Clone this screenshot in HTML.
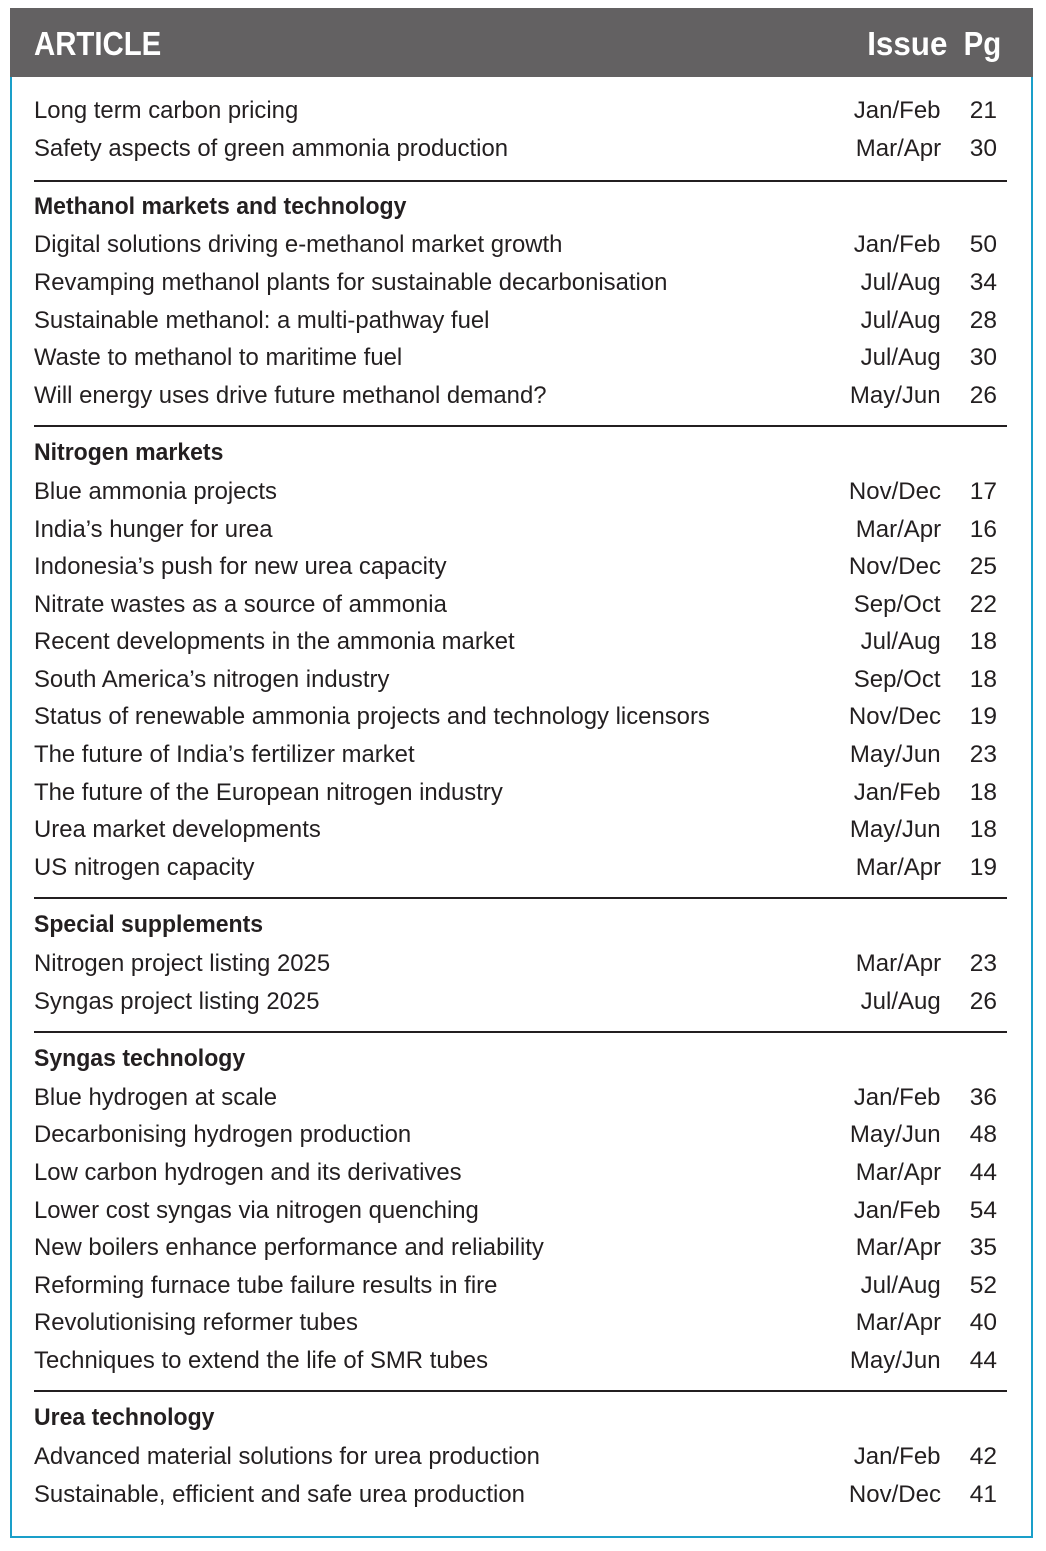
<!DOCTYPE html>
<html><head><meta charset="utf-8"><style>
body{margin:0;width:1046px;height:1551px;background:#fff;position:relative;overflow:hidden;font-family:"Liberation Sans",sans-serif;color:#231f20}
#box{position:absolute;left:10px;top:8px;width:1019px;height:1528px;border:2px solid #1a9fc9;border-top:none}
#hdr{position:absolute;left:10px;top:8px;width:1023px;height:69px;background:#636162;color:#fff}
.h{position:absolute;top:0;line-height:72px;font-weight:bold;font-size:33px;transform:scaleX(0.89)}
.row{position:absolute;height:38px;line-height:38px;font-size:24.5px;white-space:nowrap}
.t{position:absolute;left:34px;transform:scaleX(0.975);transform-origin:left center}
.t.head{font-weight:bold;transform:scaleX(0.94);transform-origin:left center}
.i{position:absolute;right:105px;transform:scaleX(0.98);transform-origin:right center}
.p{position:absolute;right:49px}
.sep{position:absolute;left:34px;width:973px;height:2px;background:#231f20}
</style></head><body>
<div id="box"></div>
<div id="hdr">
<span class="h" style="left:24px;transform-origin:left center">ARTICLE</span>
<span class="h" style="right:86px;transform-origin:right center;transform:scaleX(0.95)">Issue</span>
<span class="h" style="right:32px;transform-origin:right center">Pg</span>
</div>
<div id="rows"></div>
<script>
const rows=[
[111,"Long term carbon pricing","Jan/Feb","21"],
[149,"Safety aspects of green ammonia production","Mar/Apr","30"],
[181,"SEP"],
[207,"Methanol markets and technology"],
[245,"Digital solutions driving e-methanol market growth","Jan/Feb","50"],
[283,"Revamping methanol plants for sustainable decarbonisation","Jul/Aug","34"],
[321,"Sustainable methanol: a multi-pathway fuel","Jul/Aug","28"],
[358,"Waste to methanol to maritime fuel","Jul/Aug","30"],
[396,"Will energy uses drive future methanol demand?","May/Jun","26"],
[426,"SEP"],
[453,"Nitrogen markets"],
[492,"Blue ammonia projects","Nov/Dec","17"],
[530,"India’s hunger for urea","Mar/Apr","16"],
[567,"Indonesia’s push for new urea capacity","Nov/Dec","25"],
[605,"Nitrate wastes as a source of ammonia","Sep/Oct","22"],
[642,"Recent developments in the ammonia market","Jul/Aug","18"],
[680,"South America’s nitrogen industry","Sep/Oct","18"],
[717,"Status of renewable ammonia projects and technology licensors","Nov/Dec","19"],
[755,"The future of India’s fertilizer market","May/Jun","23"],
[793,"The future of the European nitrogen industry","Jan/Feb","18"],
[830,"Urea market developments","May/Jun","18"],
[868,"US nitrogen capacity","Mar/Apr","19"],
[898,"SEP"],
[925,"Special supplements"],
[964,"Nitrogen project listing 2025","Mar/Apr","23"],
[1002,"Syngas project listing 2025","Jul/Aug","26"],
[1032,"SEP"],
[1059,"Syngas technology"],
[1098,"Blue hydrogen at scale","Jan/Feb","36"],
[1135,"Decarbonising hydrogen production","May/Jun","48"],
[1173,"Low carbon hydrogen and its derivatives","Mar/Apr","44"],
[1211,"Lower cost syngas via nitrogen quenching","Jan/Feb","54"],
[1248,"New boilers enhance performance and reliability","Mar/Apr","35"],
[1286,"Reforming furnace tube failure results in fire","Jul/Aug","52"],
[1323,"Revolutionising reformer tubes","Mar/Apr","40"],
[1361,"Techniques to extend the life of SMR tubes","May/Jun","44"],
[1391,"SEP"],
[1418,"Urea technology"],
[1457,"Advanced material solutions for urea production","Jan/Feb","42"],
[1495,"Sustainable, efficient and safe urea production","Nov/Dec","41"]
];
const c=document.getElementById('rows');
rows.forEach(r=>{
  if(r[1]==="SEP"){
    const s=document.createElement('div');s.className='sep';s.style.top=(r[0]-1)+'px';
    
    
    c.appendChild(s);return;
  }
  const d=document.createElement('div');d.className='row';d.style.top=(r[0]-19)+'px';d.style.left='0';d.style.width='1046px';
  const t=document.createElement('span');t.className='t'+(r.length===2?' head':'');t.textContent=r[1];
  if(r.length===2){
    
    
    
    
    d.appendChild(t);
  } else {
    
    
    
    
    const i=document.createElement('span');i.className='i';i.textContent=r[2];
    
    
    const p=document.createElement('span');p.className='p';p.textContent=r[3];
    
    
    d.appendChild(t);d.appendChild(i);d.appendChild(p);
  }
  c.appendChild(d);
});
</script>
</body></html>
